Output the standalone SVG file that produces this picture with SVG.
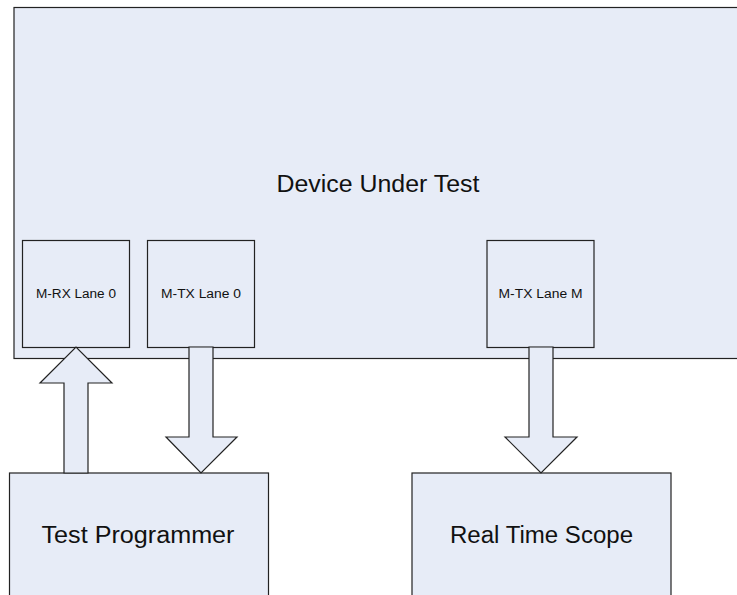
<svg xmlns="http://www.w3.org/2000/svg" width="737" height="595" viewBox="0 0 737 595">
<style>
.box{fill:#e7ecf7;stroke:#222;stroke-width:1.2}
.arr{fill:#e7ecf7;stroke:#222;stroke-width:1.2;stroke-linejoin:miter}
.lbl{font-family:"Liberation Sans",Arial,sans-serif;fill:#111;text-anchor:middle}
.big{font-size:23.5px}
.small{font-size:12.5px}
</style>
<rect width="737" height="595" fill="#fff"/>
<g id="dut">
<rect class="box" x="14" y="7.5" width="730" height="351"/>
<text class="lbl big" x="378" y="192" textLength="203" lengthAdjust="spacingAndGlyphs">Device Under Test</text>
</g>
<g id="rx0">
<rect class="box" x="22.5" y="240.5" width="107" height="107"/>
<text class="lbl small" x="76" y="298" textLength="80" lengthAdjust="spacingAndGlyphs">M-RX Lane 0</text>
</g>
<g id="tx0">
<rect class="box" x="147.5" y="240.5" width="107" height="107"/>
<text class="lbl small" x="201" y="298" textLength="80" lengthAdjust="spacingAndGlyphs">M-TX Lane 0</text>
</g>
<g id="txm">
<rect class="box" x="487" y="240.5" width="107" height="107"/>
<text class="lbl small" x="540.5" y="298" textLength="84" lengthAdjust="spacingAndGlyphs">M-TX Lane M</text>
</g>
<g id="tp">
<rect class="box" x="9.5" y="473" width="259" height="140"/>
<text class="lbl big" x="138" y="543" textLength="193" lengthAdjust="spacingAndGlyphs">Test Programmer</text>
</g>
<g id="rts">
<rect class="box" x="412" y="473" width="259" height="140"/>
<text class="lbl big" x="541.5" y="543" textLength="183" lengthAdjust="spacingAndGlyphs">Real Time Scope</text>
</g>
<g id="connectors">
<polygon class="arr" points="64,473 64,383 40,383 76,347 112,383 88,383 88,473"/>
<polygon class="arr" points="189,347 213,347 213,437 237,437 201,473 166,437 189,437"/>
<polygon class="arr" points="529,347 553,347 553,437 577,437 541,473 505,437 529,437"/>
</g>
</svg>
